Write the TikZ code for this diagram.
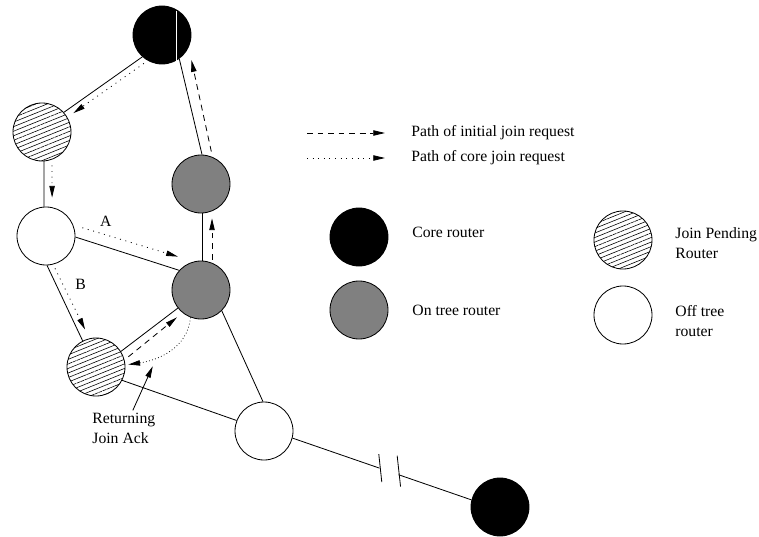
\documentclass[tikz,border=0pt]{standalone}
\usepackage{fontspec}
\setmainfont{Liberation Serif}
\usetikzlibrary{arrows.meta,calc,patterns.meta}
\tikzset{Router/.style={circle,draw,line width=0.7pt,minimum size=1.74cm,inner sep=0pt},
  Core/.style={Router,fill=black},
  OnTree/.style={Router,fill=black!50},
  OffTree/.style={Router,fill=white},
  Pending/.style={Router,pattern={Lines[angle=22,distance=3.6pt,line width=0.5pt]}},
  Lbl/.style={font=\fontsize{13.4}{17}\selectfont,inner sep=0pt,align=left},
  Tip/.style={-{Triangle[length=10pt,width=4.6pt]}},
  InitReq/.style={Tip,dash pattern=on 5pt off 4pt},
  CoreReq/.style={Tip,dash pattern=on 0.8pt off 4pt}}

\begin{document}
\begin{tikzpicture}[x=0.03cm,y=-0.03cm,line width=0.7pt]
    \useasboundingbox (0,0) rectangle (759,537);
    \node[Core] (core1) at (162,35) {};
    \node[Pending] (pend1) at (42,132) {};
    \node[OffTree] (off1) at (46,236) {};
    \node[OnTree] (on1) at (201,184) {};
    \node[OnTree] (on2) at (201,290) {};
    \node[Pending] (pend2) at (96,367) {};
    \node[OffTree] (off2) at (264,431) {};
    \node[Core] (core2) at (500,507) {};
    \draw[white,line width=0.6pt] ($(core1)+(14,-24)$) -- ($(core1)+(14,26)$);
    \draw (core1.-132) -- (pend1.42);
    \draw (pend1.-86) -- (off1.94);
    \draw (core1.-54) -- (on1.88);
    \draw (on1.-88) -- (on2.88);
    \draw (off1.-2) -- (on2.138);
    \draw (off1.-88) -- (pend2.117);
    \draw (pend2.32) -- (on2.-142);
    \draw (pend2.-27) -- (off2.159);
    \draw (on2.-45) -- (off2.92);
    \coordinate (brk1) at ($(off2.-14)!0.486!(core2.166)$);
    \coordinate (brk2) at ($(off2.-14)!0.592!(core2.166)$);
    \draw (off2.-14) -- (brk1);
    \draw (brk2) -- (core2.166);
    \draw ($(brk1)+(-0.7,-14)$) -- ($(brk1)+(2.3,14)$);
    \draw ($(brk2)+(-1.3,-19)$) -- ($(brk2)+(2.1,12)$);
    \begin{scope}[CoreReq]
      \draw[shorten <=4pt,shorten >=6.3pt] (core1.-119) -- (pend1.30);
      \draw[shorten <=5pt,shorten >=8.2pt] (pend1.-70) -- (off1.78);
      \draw[shorten <=8.1pt,shorten >=14.3pt] (off1.22) -- (on2.104) node[Lbl,pos=.27,above=6.7pt] (lblA) {A};
      \draw[shorten <=3.7pt,shorten >=8.4pt] (off1.-76) -- (pend2.103) node[Lbl,pos=.27,right=10.3pt] (lblB) {B};
      \draw[dash pattern=on 0.7pt off 2pt,line width=0.6pt,shorten >=2.6pt] (on2.-111) to[out=-95,in=8] coordinate[pos=.65] (ackpt) (pend2.4);
    \end{scope}
    \begin{scope}[InitReq]
      \draw[shorten <=4.6pt,shorten >=11.1pt] (on1.67) -- (core1.-25);
      \draw[shorten <=2.7pt,shorten >=6.1pt] (on2.68) -- (on1.-68);
      \draw[shorten <=4.2pt,shorten >=6.1pt] (pend2.14) -- (on2.-129);
    \end{scope}
    \node[Lbl,anchor=west] (ack) at (92,428) {Returning\\Join Ack};
    \draw[Tip,shorten >=8.5pt] ($(ack.north)+(9,-2)$) -- (ackpt);
    % legend
    \node[Lbl,anchor=west] (pinit) at (411,133) {Path of initial join request};
    \node[Lbl,anchor=west] (pcore) at (411,158) {Path of core join request};
    \coordinate (dstart) at (307,133);
    \coordinate (tstart) at (307,158);
    \draw[InitReq,shorten >=22.2pt] (dstart) -- (pinit.west);
    \draw[CoreReq,shorten >=22.2pt] (tstart) -- (pcore.west);
    \node[Core] (kcore) at (359,237) {};
    \node[Lbl,anchor=west] (tcore) at (412,232) {Core router};
    \node[OnTree] (kon) at (359,310) {};
    \node[Lbl,anchor=west] (ton) at (412,310) {On tree router};
    \node[Pending] (kpend) at (623,240) {};
    \node[Lbl,anchor=west] (tpend) at (675,243) {Join Pending\\Router};
    \node[OffTree] (koff) at (623,315) {};
    \node[Lbl,anchor=west] (toff) at (675,321) {Off tree\\router};
\end{tikzpicture}
\end{document}
